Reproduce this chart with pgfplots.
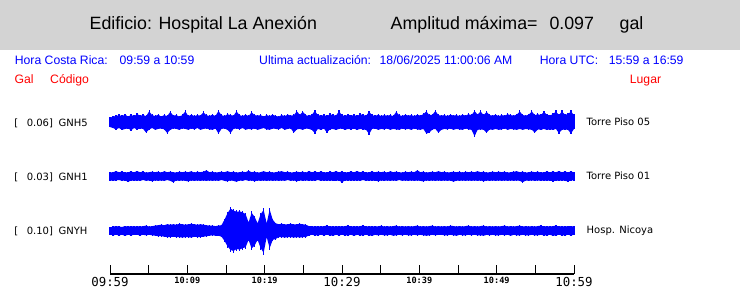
\documentclass[border=0pt]{standalone}
\usepackage{pgfplots}
\pgfplotsset{compat=1.18}
\usepackage{pgfplotstable}
\usepgfplotslibrary{fillbetween}
\usepackage{fontspec}
\setmainfont{Liberation Sans}
\newfontfamily\dv{DejaVu Sans}
\newfontfamily\dvm{DejaVu Sans Mono}
\definecolor{hdr}{RGB}{211,211,211}
\newcommand\hd{\fontsize{17.8}{20}\selectfont}
\newcommand\sm{\fontsize{12.2}{14}\selectfont}
\newcommand\lb{\dv\fontsize{10}{12}\selectfont}
\newcommand\tl{\dvm\fontsize{12.4}{14}\selectfont}
\newcommand\ts{\dvm\bfseries\fontsize{8.6}{10}\selectfont}

% trace envelopes: u = upward extent, d = downward extent (px) per column
\pgfplotstableread[row sep=\\]{u d\\
5 5\\6.5 6\\7 7.5\\8 6\\7 8\\8.5 7\\6.5 6.5\\8 8.5\\7 6\\9 7.5\\
7.5 6.5\\8 7\\7 11\\12 7.5\\8 6\\7 8\\8.5 7\\6.5 6.5\\8 7.5\\7 11.5\\
11.5 8\\7.5 6.5\\8 7\\6.5 8\\8 6.5\\12 7\\7 8\\8.5 6.5\\7 7.5\\8 6\\
7.5 8\\11 7\\8 6.5\\7 7.5\\8.5 8\\7 6.5\\12.5 12\\8 7\\7 6.5\\9 8\\
8 11.5\\7.5 7\\12 6.5\\8 7.5\\7 6\\8.5 8\\7 7\\11 7.5\\8 6.5\\7.5 8\\
8 7\\6.5 6\\8 7.5\\7 8\\8.5 6.5\\7 7\\6.5 7.5\\8 6\\7 8\\8.5 7\\
7.5 6.5\\8 11\\12 7.5\\8.5 7\\11.5 8\\8 6.5\\7 7\\8.5 8\\12.5 11.5\\8 7\\
7.5 8\\8 6.5\\7 11\\9 7.5\\8 7\\7.5 8\\12 7\\8 6.5\\7 8\\8.5 7\\
7.5 7.5\\8 6.5\\7 8\\9 7\\8 7.5\\7.5 8\\11.5 12.5\\8 7\\7 6.5\\8.5 8\\
7 7\\8 7.5\\7.5 6.5\\8 8\\7 7\\11.5 7.5\\8 8\\7 6.5\\8.5 7.5\\7.5 7\\
8 8\\7 6.5\\8.5 7.5\\7.5 8\\9 7\\12 12\\8 11\\8.5 7.5\\12.5 7\\8 11\\
7.5 8\\8 7\\7 7.5\\8.5 6.5\\7.5 8\\8 7\\7 7.5\\8.5 8\\7.5 6.5\\9 7.5\\
8 8\\12.5 15\\8.5 8\\12 7.5\\8 8\\11.5 11\\8 7.5\\7.5 8\\8.5 7\\7 8\\
8 7.5\\7.5 6.5\\9 8\\8 7\\7.5 7.5\\8.5 8\\12 7\\8 8\\7.5 7\\8.5 7.5\\
12 8\\8 11\\9 7.5\\8 8\\11.5 7\\8.5 8\\7.5 7.5\\9 8\\12 7\\8 11.5\\
12 8\\8.5 7.5\\9 8\\12 12\\8 7\\
}\gnhfive

\pgfplotstableread[row sep=\\]{u d\\
4 4.5\\4.5 5\\5.5 4.5\\4.5 4\\5 5\\4 4.5\\4.5 6\\5 4.5\\4.5 5\\5.5 4.5\\
4.5 5\\5 4\\4 5\\4.5 4.5\\5 5.5\\4.5 4.5\\5 5\\4 4.5\\5.5 5\\4.5 4\\
5 5\\4.5 6.5\\4 4.5\\5 5\\4.5 4.5\\5 5\\4.5 5.5\\5.5 4.5\\4 5\\5 4.5\\
4.5 5\\5 4.5\\6.5 5\\4.5 4.5\\5 5\\4 4.5\\4.5 5\\5 4\\4.5 5\\5.5 5.5\\
4.5 4.5\\5 5\\4 6\\4.5 4.5\\5 5\\4.5 4\\6 5\\4.5 4.5\\5 5.5\\4 4.5\\
4.5 5\\5.5 4.5\\4.5 5\\5 4.5\\4 5\\4.5 4.5\\5 5\\5.5 4.5\\4.5 5\\5 4\\
4 5\\4.5 4.5\\5 5.5\\4.5 4.5\\5 5\\4 4.5\\5.5 5\\4.5 4.5\\5 5\\4.5 4\\
5 5\\4.5 4.5\\4 5\\5 4.5\\4.5 5\\5.5 5\\4.5 4.5\\5 6.5\\4 4.5\\4.5 5\\
5 4.5\\4.5 5\\5.5 4.5\\4.5 5\\5 4\\4 5\\4.5 4.5\\5 5\\4.5 4.5\\5 5.5\\
4.5 4.5\\5 5\\4 4.5\\5.5 5\\4.5 4.5\\5 5\\4.5 4\\4 5\\5 4.5\\4.5 5\\
5 4.5\\4.5 5\\6.5 4.5\\4.5 5\\5 5.5\\4 4.5\\4.5 5\\5 4.5\\4.5 5\\5.5 4.5\\
4.5 5\\5 4.5\\4 5\\4.5 4.5\\5 6\\4.5 4.5\\5 5\\4 4.5\\5 5\\4.5 4.5\\
5 5\\4.5 4.5\\5.5 5\\4.5 4.5\\5 5.5\\4 4.5\\4.5 5\\5 4.5\\4.5 5\\5 4.5\\
4.5 5\\5 4.5\\4 5\\4.5 4.5\\5 5\\5.5 4.5\\4.5 5\\5 6.5\\4 4.5\\4.5 5\\
5 4.5\\4.5 5\\5 4.5\\4 5\\4.5 4.5\\5 5\\4.5 4.5\\5 5.5\\4.5 4.5\\5.5 5\\
4.5 4.5\\5 5\\4.5 5.5\\5 4.5\\4.5 4.5\\
}\gnhone

\pgfplotstableread[row sep=\\]{u d\\
3.5 4\\4.5 5\\5 4.5\\4.5 5\\4 4.5\\5 5.5\\4.5 4.5\\5 5\\4.5 4.5\\5 4.5\\
4.5 5\\5 4.5\\5.5 5\\4.5 4.5\\5 5\\5.5 5.5\\6 6\\6.5 6\\6 6.5\\7 7\\
6.5 7\\7 6.5\\6.5 7\\7.5 7\\7 7.5\\6.5 7\\7 7\\7.5 7.5\\7 6.5\\6.5 7\\
7 7\\6.5 6.5\\6 6\\5.5 5.5\\5.5 5\\5 5.5\\5.5 5.5\\6 6.5\\12 11\\19 17\\
24 21\\22 22\\20.5 20\\21 20.5\\20 19\\18 18\\9 10\\19.5 19.5\\15 16\\8 10\\
18 19\\22.5 24\\8 7\\23 19\\12 10\\8 9\\7 7\\7.5 7\\7 7.5\\7 7\\
7.5 7\\7 7.5\\7 7\\7.5 7.5\\7 7\\6.5 7\\5 5\\5 4.5\\4.5 5\\5 5\\
4.5 4.5\\5 5\\5.5 4.5\\4.5 5\\5 5.5\\4.5 4.5\\5 5\\4.5 4.5\\5 5\\5.5 5\\
4.5 4.5\\5 5.5\\4.5 4.5\\5 5\\5.5 5\\4.5 4.5\\5 5\\4.5 5.5\\5 4.5\\4.5 5\\
5.5 4.5\\4.5 5\\5 5\\4.5 4.5\\5 5.5\\5.5 5\\4.5 4.5\\5 5\\4.5 4.5\\5 5\\
4.5 5\\5 4.5\\5.5 5\\4.5 4.5\\5 5\\4.5 5.5\\5 5\\5.5 4.5\\4.5 5\\5 4.5\\
4.5 4.5\\5 5\\4.5 5\\5.5 4.5\\5 5\\4.5 5.5\\5 4.5\\4.5 5\\5 5\\5.5 4.5\\
4.5 5\\5 4.5\\4.5 5\\5 5\\5.5 5.5\\4.5 4.5\\5 5\\4.5 4.5\\5 5\\4.5 5\\
5 4.5\\5.5 5\\4.5 4.5\\5 5.5\\4.5 4.5\\5 5\\5.5 5\\4.5 4.5\\5 5\\4.5 5\\
5 4.5\\4.5 5\\5 5\\5.5 4.5\\4.5 5\\5 5\\4.5 4.5\\5 5.5\\5.5 5\\4.5 4.5\\
5 5\\4.5 5\\5 4.5\\5 5\\4.5 4.5\\
}\gnyh

\pgfplotsset{
  spikes/.style={blue, mark=none, line width=0.4pt,
    error bars/.cd, y dir=both, y explicit, error mark=none,
    error bar style={line width=1.3pt, blue}},
  core/.style={draw=none, forget plot},
}

\begin{document}
\begin{tikzpicture}
\fill[hdr] (0pt,238pt) rectangle (740pt,288pt);
\begin{scope}[every node/.style={anchor=base west, inner sep=0pt}]
\node[font=\hd] at (89.5pt,258.7pt) {Edificio: Hospital La Anexión};
\node[font=\hd] at (390.5pt,258.7pt) {Amplitud máxima=};
\node[font=\hd] at (549.3pt,258.7pt) {0.097};
\node[font=\hd] at (619.5pt,258.7pt) {gal};
\node[font=\sm, text=blue] at (14.7pt,223pt) {Hora Costa Rica:};
\node[font=\sm, text=blue] at (119.5pt,223pt) {09:59 a 10:59};
\node[font=\sm, text=blue] at (259pt,223pt) {Ultima actualización:};
\node[font=\sm, text=blue] at (379.5pt,223pt) {18/06/2025 11:00:06 AM};
\node[font=\sm, text=blue] at (539.7pt,223pt) {Hora UTC:};
\node[font=\sm, text=blue] at (608.7pt,223pt) {15:59 a 16:59};
\node[font=\sm, text=red] at (14.4pt,204pt) {Gal};
\node[font=\sm, text=red] at (50pt,204pt) {Código};
\node[font=\sm, text=red] at (629.7pt,204pt) {Lugar};
\node[font=\lb] at (14.2pt,161.3pt) {[};
\node[font=\lb] at (26.6pt,161.3pt) {0.06]};
\node[font=\lb] at (58.4pt,161.3pt) {GNH5};
\node[font=\lb] at (14.2pt,107.3pt) {[};
\node[font=\lb] at (26.6pt,107.3pt) {0.03]};
\node[font=\lb] at (58.4pt,107.3pt) {GNH1};
\node[font=\lb] at (14.2pt,53.7pt) {[};
\node[font=\lb] at (26.6pt,53.7pt) {0.10]};
\node[font=\lb] at (58.4pt,53.7pt) {GNYH};
\node[font=\lb] at (586.5pt,162pt) {Torre Piso 05};
\node[font=\lb] at (586.5pt,108pt) {Torre Piso 01};
\node[font=\lb] at (586.5pt,54pt) {Hosp. Nicoya};
\end{scope}
\begin{axis}[
  at={(110pt,14pt)}, anchor=south west,
  scale only axis, width=464pt, height=274pt,
  xmin=0, xmax=60, ymin=0, ymax=274,
  axis x line=bottom, axis y line=none,
  x axis line style={-, black, line width=1.2pt},
  tick align=inside, major tick length=9pt,
  xtick={0,5,...,60},
  xticklabels={{\tl 09:59},{},{\ts 10:09},{},{\ts 10:19},{},{\tl 10:29},{},{\ts 10:39},{},{\ts 10:49},{},{\tl 10:59}},
  xticklabel style={anchor=north, inner sep=0pt, yshift=-3pt},
  xtick style={black, line width=0.8pt},
  ytick=\empty,
  clip=false,
]
% GNH5
\addplot[core, name path=au] table[x expr=\coordindex*60/154, y expr=151.5+0.92*\thisrow{u}] {\gnhfive};
\addplot[core, name path=ad] table[x expr=\coordindex*60/154, y expr=151.5-0.92*\thisrow{d}] {\gnhfive};
\addplot[blue] fill between[of=au and ad];
\addplot[spikes] table[x expr=\coordindex*60/154, y expr=151.5, y error plus=u, y error minus=d] {\gnhfive};
% GNH1
\addplot[core, name path=bu] table[x expr=\coordindex*60/154, y expr=97.7+0.92*\thisrow{u}] {\gnhone};
\addplot[core, name path=bd] table[x expr=\coordindex*60/154, y expr=97.7-0.92*\thisrow{d}] {\gnhone};
\addplot[blue] fill between[of=bu and bd];
\addplot[spikes] table[x expr=\coordindex*60/154, y expr=97.7, y error plus=u, y error minus=d] {\gnhone};
% GNYH
\addplot[core, name path=cu] table[x expr=\coordindex*60/154, y expr=43.3+0.92*\thisrow{u}] {\gnyh};
\addplot[core, name path=cd] table[x expr=\coordindex*60/154, y expr=43.3-0.92*\thisrow{d}] {\gnyh};
\addplot[blue] fill between[of=cu and cd];
\addplot[spikes] table[x expr=\coordindex*60/154, y expr=43.3, y error plus=u, y error minus=d] {\gnyh};
\end{axis}
\pgfresetboundingbox
\path[use as bounding box] (0pt,0pt) rectangle (740pt,288pt);
\end{tikzpicture}
\end{document}
